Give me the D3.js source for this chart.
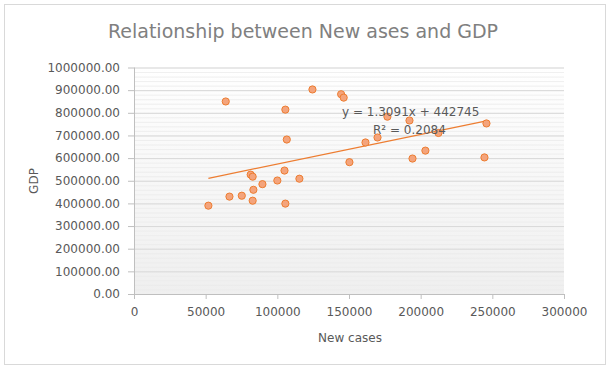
<!DOCTYPE html>
<html>
<head>
<meta charset="utf-8">
<script src="https://cdn.jsdelivr.net/npm/d3@7"></script>
<style>
  body { margin: 0; background: #fff; }
  text { font-family: "DejaVu Sans", sans-serif; }
</style>
</head>
<body>
<svg id="chart"></svg>
<script>
// data
var newCases = [64000, 124500, 144500, 146300, 105600, 106600, 150300, 81400, 82800, 105000,
                89600, 100000, 115400, 51900, 66600, 75200, 83300, 82800, 105600, 176800,
                192200, 245900, 169900, 161500, 212400, 203300, 194300, 244500];
var gdp = [850000, 903000, 882000, 867000, 814000, 682000, 582000, 527000, 518000, 545000,
           485000, 501000, 509000, 390000, 430000, 434000, 460000, 412000, 399000, 783000,
           766000, 753000, 691000, 669000, 711000, 633000, 598000, 603000];
var trendSlope = 1.3091, trendIntercept = 442745, rSquared = 0.2084;
var xTickValues = [0, 50000, 100000, 150000, 200000, 250000, 300000];
var yTickValues = [0, 100000, 200000, 300000, 400000, 500000, 600000, 700000, 800000, 900000, 1000000];

var W = 612, H = 373;
var margin = {top: 67.5, right: 48, bottom: 79, left: 134};
var width = W - margin.left - margin.right,
    height = H - margin.top - margin.bottom;

var svg = d3.select("#chart").attr("width", W).attr("height", H);

// chart border
svg.append("rect")
    .attr("x", 4.5).attr("y", 4.5)
    .attr("width", 601).attr("height", 360)
    .attr("fill", "#fff")
    .attr("stroke", "#d9d9d9");

var defs = svg.append("defs");
var grad = defs.append("linearGradient")
    .attr("id", "plotbg").attr("x1", 0).attr("y1", 0).attr("x2", 0).attr("y2", 1);
grad.append("stop").attr("offset", "0%").attr("stop-color", "#ffffff");
grad.append("stop").attr("offset", "100%").attr("stop-color", "#efefef");

var g = svg.append("g")
    .attr("transform", "translate(" + margin.left + "," + margin.top + ")");

var x = d3.scaleLinear().domain([0, 300000]).range([0, width]);
var y = d3.scaleLinear().domain([0, 1000000]).range([height, 0]);

g.append("rect")
    .attr("width", width).attr("height", height)
    .attr("fill", "url(#plotbg)");

// minor stripes
g.append("g")
    .call(d3.axisLeft(y).tickValues(d3.range(0, 1000001, 20000)).tickSize(-width).tickFormat(""))
    .call(s => s.select(".domain").remove())
    .call(s => s.selectAll("line").attr("stroke", "#ebebeb").attr("stroke-opacity", 0.8));

// major gridlines
g.append("g")
    .call(d3.axisLeft(y).tickValues(yTickValues).tickSize(-width).tickFormat(""))
    .call(s => s.select(".domain").remove())
    .call(s => s.selectAll("line").attr("stroke", "#d9d9d9"));

// y axis
var yAxis = g.append("g")
    .call(d3.axisLeft(y).tickValues(yTickValues).tickSize(6).tickPadding(8)
        .tickFormat(d3.format(".2f")));
yAxis.select(".domain").attr("stroke", "#bfbfbf").attr("d", "M0.5,0V" + height);
yAxis.selectAll("line").attr("stroke", "#bfbfbf");
yAxis.selectAll("text").attr("fill", "#595959").style("font-size", "12px")
    .style("font-family", "DejaVu Sans");

// x axis
var xAxis = g.append("g")
    .attr("transform", "translate(0," + height + ")")
    .call(d3.axisBottom(x).tickValues(xTickValues).tickSize(5).tickPadding(8)
        .tickFormat(d3.format("d")));
xAxis.select(".domain").attr("stroke", "#bfbfbf").attr("d", "M0," + 0.5 + "H" + width);
xAxis.selectAll("line").attr("stroke", "#bfbfbf");
xAxis.selectAll("text").attr("fill", "#595959").style("font-size", "12px")
    .style("font-family", "DejaVu Sans");

// trendline
var xExt = d3.extent(newCases);
g.append("line")
    .attr("x1", x(xExt[0])).attr("y1", y(trendSlope * xExt[0] + trendIntercept))
    .attr("x2", x(xExt[1])).attr("y2", y(trendSlope * xExt[1] + trendIntercept))
    .attr("stroke", "#ed7d31").attr("stroke-width", 1.25);

// points
g.selectAll("circle")
    .data(newCases.map((d, i) => [d, gdp[i]]))
    .enter().append("circle")
    .attr("cx", d => x(d[0]))
    .attr("cy", d => y(d[1]))
    .attr("r", 3.6)
    .attr("fill", "#f4a47c")
    .attr("stroke", "#ed7d31")
    .attr("stroke-width", 1);

// trendline label
g.append("text")
    .attr("x", 342 - margin.left).attr("y", 116 - margin.top)
    .attr("fill", "#595959").style("font-size", "12px")
    .text("y = " + trendSlope + "x + " + trendIntercept);
g.append("text")
    .attr("x", 373 - margin.left).attr("y", 134 - margin.top)
    .attr("fill", "#595959").style("font-size", "12px")
    .text("R² = " + rSquared);

// title
svg.append("text")
    .attr("x", 303).attr("y", 38)
    .attr("text-anchor", "middle")
    .attr("fill", "#808080")
    .style("font-size", "19px")
    .text("Relationship between New ases and GDP");

// axis titles
svg.append("text")
    .attr("x", margin.left + width / 2 + 1).attr("y", 342)
    .attr("text-anchor", "middle")
    .attr("fill", "#595959").style("font-size", "12px")
    .text("New cases");

svg.append("text")
    .attr("transform", "translate(38," + 181 + ") rotate(-90)")
    .attr("text-anchor", "middle")
    .attr("fill", "#595959").style("font-size", "12px")
    .text("GDP");
</script>
</body>
</html>
